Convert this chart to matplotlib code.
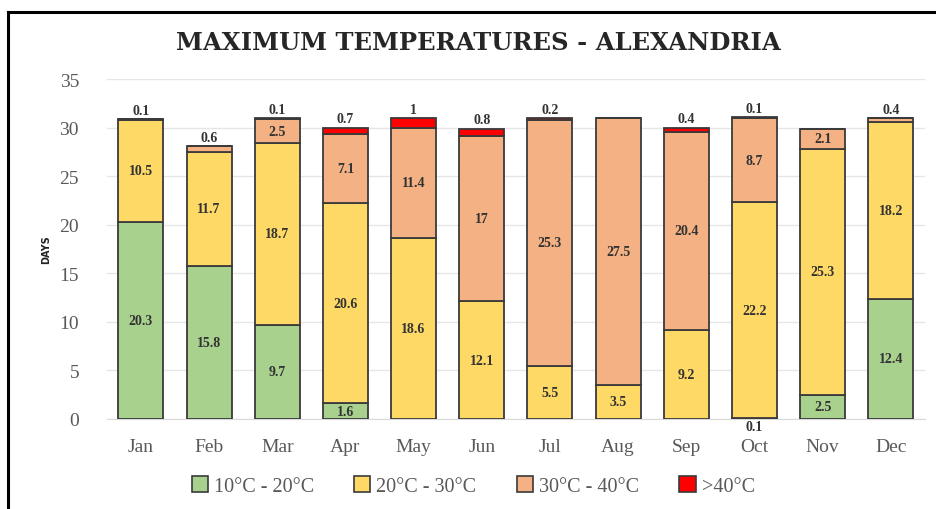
import matplotlib.pyplot as plt
import numpy as np
from matplotlib.lines import Line2D
from matplotlib.patches import Patch

months = ["Jan", "Feb", "Mar", "Apr", "May", "Jun", "Jul", "Aug", "Sep", "Oct", "Nov", "Dec"]
labels = ["10°C - 20°C", "20°C - 30°C", "30°C - 40°C", ">40°C"]
t10_20 = [20.3, 15.8, 9.7, 1.6, 0, 0, 0, 0, 0, 0.1, 2.5, 12.4]
t20_30 = [10.5, 11.7, 18.7, 20.6, 18.6, 12.1, 5.5, 3.5, 9.2, 22.2, 25.3, 18.2]
t30_40 = [0.1, 0.6, 2.5, 7.1, 11.4, 17, 25.3, 27.5, 20.4, 8.7, 2.1, 0.4]
t40_up = [0, 0, 0.1, 0.7, 1, 0.8, 0.2, 0, 0.4, 0.1, 0, 0]

colors = ["#A9D18E", "#FFD966", "#F4B183", "#FF0000"]
edge = "#3a3a3a"
serif = ["Liberation Serif", "DejaVu Serif"]

fig = plt.figure(figsize=(9.37, 5.10), dpi=100)
ax = fig.add_axes([0.114, 0.1765, 0.873, 0.6665])

x = np.arange(len(months))
series = [t10_20, t20_30, t30_40, t40_up]
bottom = np.zeros(len(months))
for vals, col in zip(series, colors):
    vals = np.array(vals, dtype=float)
    ax.bar(x, vals, 0.66, bottom=bottom, color=col, edgecolor=edge, linewidth=1.3, zorder=3)
    bottom += vals

# data labels
totals = bottom
bottom = np.zeros(len(months))
for s, vals in enumerate(series):
    for i, v in enumerate(vals):
        if v == 0:
            continue
        txt = "%g" % v
        if v <= 1:
            # small pieces get their label outside the bar
            y = -0.75 if s == 0 else totals[i] + 0.9
        else:
            y = bottom[i] + v / 2
        ax.text(x[i], y, txt, ha="center", va="center", fontsize=10, fontweight="bold",
                color="#333333", family=serif, zorder=5)
    bottom += np.array(vals, dtype=float)

ax.set_xlim(-0.5, 11.5)
ax.set_ylim(0, 35)
ax.set_yticks(range(0, 36, 5))
ax.set_xticks(x)
ax.set_xticklabels(months)
ax.tick_params(axis="both", length=0, labelsize=14, labelcolor="#595959")
ax.tick_params(axis="x", pad=14)
ax.tick_params(axis="y", pad=20)
for lab in ax.get_xticklabels() + ax.get_yticklabels():
    lab.set_family(serif)
ax.grid(axis="y", color="#e6e6e6", linewidth=1, zorder=0)
for sp in ["top", "right", "left"]:
    ax.spines[sp].set_visible(False)
ax.spines["bottom"].set_color("#d9d9d9")
ax.set_ylabel("DAYS", fontsize=7, fontweight="bold", color="#222222", labelpad=6)

fig.text(0.511, 0.915, "MAXIMUM TEMPERATURES - ALEXANDRIA", ha="center", va="center",
         fontsize=17.5, fontweight="bold", family=["DejaVu Serif"], color="#262626")

handles = [Patch(facecolor=c, edgecolor=edge, linewidth=1.2) for c in colors]
leg = fig.legend(handles, labels, loc="center", bbox_to_anchor=(0.505, 0.045), ncol=4,
                 frameon=False, handlelength=0.8, handleheight=0.8, handletextpad=0.3,
                 columnspacing=2.0, prop={"family": serif, "size": 14.5})
for t in leg.get_texts():
    t.set_color("#595959")

# outer frame
fig.add_artist(Line2D([8 / 937, 8 / 937], [0, 1 - 13 / 510], color="black", linewidth=2.2))
fig.add_artist(Line2D([8 / 937, 1], [1 - 13 / 510, 1 - 13 / 510], color="black", linewidth=2.2))

fig.savefig("out.png", dpi=100)
